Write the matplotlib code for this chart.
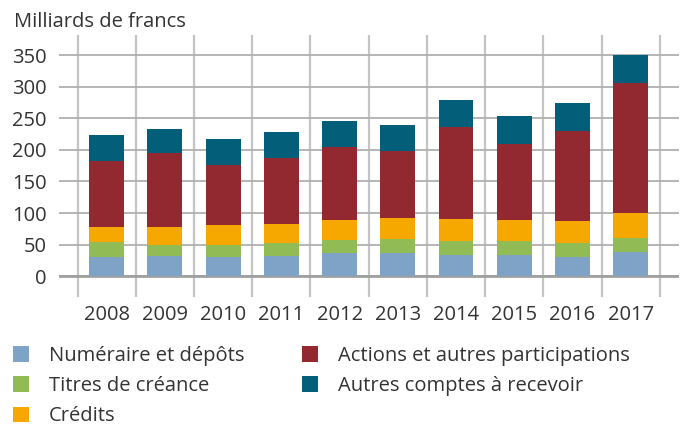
import matplotlib
matplotlib.use("Agg")
import matplotlib.pyplot as plt
import numpy as np

plt.rcParams['font.family'] = ['Open Sans', 'DejaVu Sans']

years = ["2008", "2009", "2010", "2011", "2012", "2013", "2014", "2015", "2016", "2017"]
numeraire = [30.6, 32.7, 30.6, 32.7, 36.9, 36.9, 33.8, 33.8, 30.6, 39.0]
titres = [24.3, 16.9, 19.0, 20.0, 21.1, 22.2, 22.1, 22.1, 22.1, 22.2]
credits = [23.1, 28.4, 31.6, 30.1, 31.1, 33.2, 34.8, 33.2, 34.9, 39.5]
actions = [104.5, 117.0, 94.8, 105.0, 115.5, 106.0, 145.6, 120.8, 142.4, 205.2]
autres = [41.1, 38.0, 41.3, 40.6, 41.2, 41.2, 42.7, 43.8, 44.3, 44.3]
yticks = [0, 50, 100, 150, 200, 250, 300, 350]

series = [
    ("Numéraire et dépôts", numeraire, "#7ea3c6"),
    ("Titres de créance", titres, "#91bb55"),
    ("Crédits", credits, "#f6a800"),
    ("Actions et autres participations", actions, "#922830"),
    ("Autres comptes à recevoir", autres, "#025e79"),
]

W, H = 686, 426
fig = plt.figure(figsize=(W / 100, H / 100), dpi=100)
ax = fig.add_axes([59 / W, 1 - 297 / H, (679 - 59) / W, (297 - 35) / H])

x = np.arange(len(years))
bottom = np.zeros(len(years))
handles = []
for label, vals, col in series:
    b = ax.bar(x, vals, width=0.6, bottom=bottom, color=col, label=label, zorder=3)
    handles.append(b)
    bottom += np.array(vals)

ax.set_xlim(-0.82, 9.83)
ax.set_ylim(-33, 382)
ax.set_yticks(yticks)
ax.set_xticks(x)
ax.set_xticklabels(years)
ax.set_xticks(np.arange(-0.5, 10, 1.0), minor=True)

txtc = "#333333"
fs = 14.5
ax.tick_params(axis='both', which='both', length=0, labelsize=fs, colors=txtc)
ax.tick_params(axis='y', pad=9)
ax.tick_params(axis='x', pad=6)

ax.grid(axis='y', which='major', color='#b0b0b0', lw=1.3, zorder=1)
ax.grid(axis='x', which='minor', color='#c4c4c4', lw=1.6, zorder=1)
ax.grid(axis='x', which='major', visible=False)
ax.axhline(0, color='#a0a0a0', lw=2.0, zorder=2)
for s in ax.spines.values():
    s.set_visible(False)

fig.text(14 / W, 1 - 27 / H, "Milliards de francs", fontsize=fs, color=txtc, va='baseline', ha='left')

legkw = dict(frameon=False, fontsize=fs, handlelength=0.78, handleheight=0.78,
             handletextpad=1.0, labelspacing=0.5, borderpad=0, borderaxespad=0,
             loc='upper left', labelcolor=txtc)
fig.legend(handles[:3], [s[0] for s in series[:3]],
           bbox_to_anchor=(13 / W, 1 - 346 / H), **legkw)
fig.legend(handles[3:], [s[0] for s in series[3:]],
           bbox_to_anchor=(302 / W, 1 - 346 / H), **legkw)

fig.savefig("out.png", dpi=100)
